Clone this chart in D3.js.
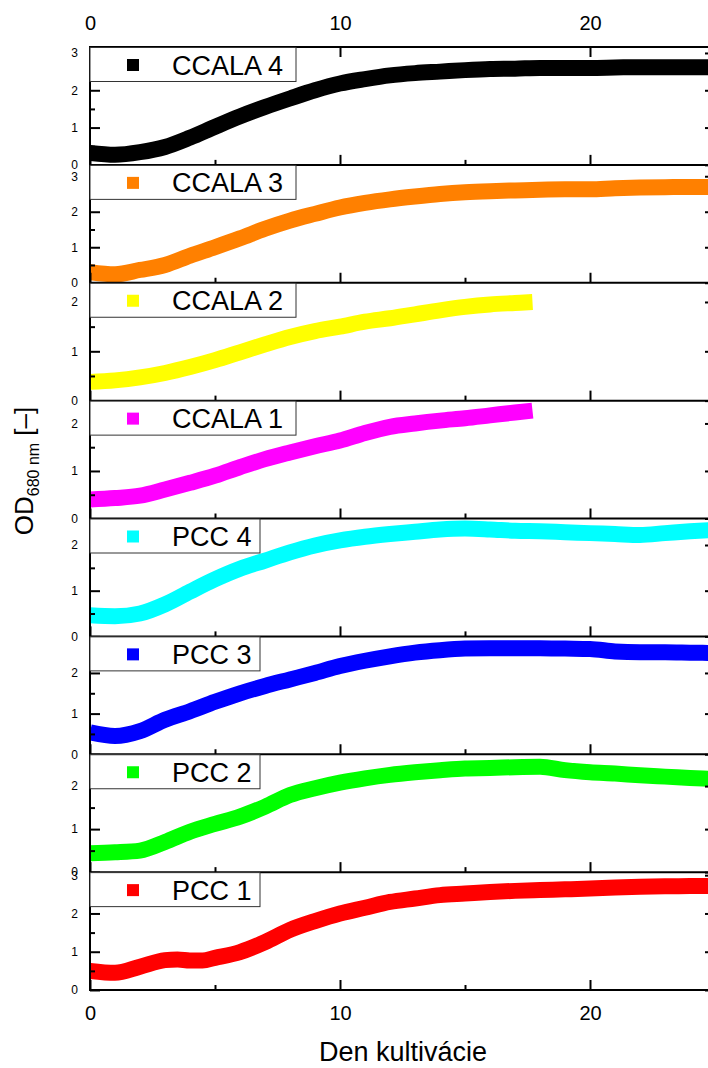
<!DOCTYPE html>
<html>
<head>
<meta charset="utf-8">
<script src="https://cdn.jsdelivr.net/npm/d3@7"></script>
<style>
  html, body { margin: 0; padding: 0; background: #fff; }
  svg { display: block; font-family: "Liberation Sans", Arial, sans-serif; }
</style>
</head>
<body>
<svg id="chart" width="708" height="1068"></svg>
<script>
// ---------- data (day, OD680) ----------
const seriesNames = ["CCALA 4", "CCALA 3", "CCALA 2", "CCALA 1", "PCC 4", "PCC 3", "PCC 2", "PCC 1"];
const seriesColors = ["#000000", "#ff8000", "#ffff00", "#ff00ff", "#00ffff", "#0000ff", "#00ff00", "#ff0000"];
const yMaxima = [3.16, 3.32, 2.39, 2.48, 2.58, 2.9, 2.74, 3.08];
const yTickValues = [[0,1,2,3],[0,1,2,3],[0,1,2],[0,1,2],[0,1,2],[0,1,2],[0,1,2],[0,1,2,3]];
const xMajorTicks = [0, 10, 20];
const xMinorTicks = [5, 15];

const ccala4 = [[0,0.32],[1,0.27],[2,0.34],[3,0.48],[4,0.73],[5,1.02],[6,1.3],[7,1.55],[8,1.78],[9,2.0],[10,2.18],[11,2.3],[12,2.4],[13,2.46],[14,2.5],[15,2.54],[16,2.57],[17,2.58],[18,2.6],[19,2.6],[20,2.6],[21,2.61],[22,2.62],[23,2.62],[24,2.62],[25,2.62]];
const ccala3 = [[0,0.3],[1,0.24],[2,0.36],[3,0.5],[4,0.76],[5,1.0],[6,1.25],[7,1.52],[8,1.75],[9,1.94],[10,2.12],[11,2.25],[12,2.35],[13,2.43],[14,2.5],[15,2.55],[16,2.58],[17,2.6],[18,2.62],[19,2.63],[20,2.63],[21,2.66],[22,2.68],[23,2.69],[24,2.7],[25,2.7]];
const ccala2 = [[0,0.38],[1,0.41],[2,0.47],[3,0.56],[4,0.68],[5,0.82],[6,0.98],[7,1.14],[8,1.29],[9,1.41],[10,1.5],[11,1.6],[12,1.67],[13,1.75],[14,1.83],[15,1.9],[16,1.95],[17,1.98],[17.7,2.0]];
const ccala1 = [[0,0.4],[1,0.43],[2,0.48],[3,0.61],[4,0.75],[5,0.9],[6,1.08],[7,1.25],[8,1.39],[9,1.52],[10,1.64],[11,1.8],[12,1.93],[13,2.0],[14,2.06],[15,2.11],[16,2.17],[17,2.23],[17.7,2.27]];
const pcc4 = [[0,0.46],[1,0.44],[2,0.5],[3,0.7],[4,0.98],[5,1.25],[6,1.48],[7,1.66],[8,1.84],[9,1.99],[10,2.1],[11,2.18],[12,2.24],[13,2.29],[14,2.34],[15,2.36],[16,2.34],[17,2.31],[18,2.3],[19,2.28],[20,2.26],[21,2.24],[22,2.22],[23,2.26],[24,2.3],[25,2.33]];
const pcc3 = [[0,0.54],[1,0.45],[2,0.57],[3,0.85],[4,1.06],[5,1.29],[6,1.5],[7,1.68],[8,1.84],[9,2.0],[10,2.17],[11,2.3],[12,2.41],[13,2.5],[14,2.56],[15,2.6],[16,2.61],[17,2.61],[18,2.61],[19,2.6],[20,2.59],[21,2.53],[22,2.51],[23,2.51],[24,2.5],[25,2.49]];
const pcc2 = [[0,0.44],[1,0.46],[2,0.5],[3,0.7],[4,0.94],[5,1.12],[6,1.29],[7,1.52],[8,1.79],[9,1.95],[10,2.08],[11,2.18],[12,2.26],[13,2.32],[14,2.37],[15,2.41],[16,2.42],[17,2.44],[18,2.45],[19,2.37],[20,2.32],[21,2.29],[22,2.25],[23,2.22],[24,2.19],[25,2.16]];
const pcc1 = [[0,0.5],[1,0.45],[2,0.61],[3,0.78],[3.5,0.8],[4,0.77],[4.5,0.77],[5,0.84],[6,0.99],[7,1.25],[8,1.57],[9,1.8],[10,2.0],[11,2.15],[12,2.3],[13,2.39],[14,2.48],[15,2.52],[16,2.56],[17,2.59],[18,2.61],[19,2.63],[20,2.65],[21,2.68],[22,2.7],[23,2.71],[24,2.72],[25,2.72]];
const seriesData = [ccala4, ccala3, ccala2, ccala1, pcc4, pcc3, pcc2, pcc1];

// ---------- layout ----------
const svg = d3.select("#chart");
const plotL = 90, plotR = 715, plotT = 47, plotB = 990;
const nPanels = seriesNames.length;
const panelH = (plotB - plotT) / nPanels;
const x = d3.scaleLinear().domain([0, 25]).range([plotL, plotR]);
const fontFam = '"Liberation Sans", Arial, sans-serif';

const defs = svg.append("defs");

seriesNames.forEach((name, i) => {
  const pTop = plotT + i * panelH;
  const pBot = pTop + panelH;
  const y = d3.scaleLinear().domain([0, yMaxima[i]]).range([pBot, pTop]);

  defs.append("clipPath").attr("id", "clip" + i)
    .append("rect").attr("x", plotL).attr("y", pTop).attr("width", plotR - plotL).attr("height", panelH);

  const g = svg.append("g");

  // data band
  const line = d3.line().x(d => x(d[0])).y(d => y(d[1])).curve(d3.curveMonotoneX);
  g.append("path")
    .datum(seriesData[i])
    .attr("clip-path", "url(#clip" + i + ")")
    .attr("d", line)
    .attr("fill", "none")
    .attr("stroke", seriesColors[i])
    .attr("stroke-width", 16)
    .attr("stroke-linejoin", "round")
    .attr("stroke-linecap", "butt");

  // left axis majors with labels
  const minorY = d3.range(0.5, yMaxima[i], 1);
  const la = g.append("g").attr("transform", `translate(${plotL},0)`)
    .call(d3.axisLeft(y).tickValues(yTickValues[i]).tickSize(-10).tickPadding(12).tickFormat(d3.format("d")));
  la.select(".domain").remove();
  la.selectAll("line").attr("stroke", "#000").attr("stroke-width", 2);
  la.selectAll("text").attr("font-family", fontFam).attr("font-size", 12).attr("fill", "#000");
  const lm = g.append("g").attr("transform", `translate(${plotL},0)`)
    .call(d3.axisLeft(y).tickValues(minorY).tickSize(-5).tickFormat(""));
  lm.select(".domain").remove();
  lm.selectAll("line").attr("stroke", "#000").attr("stroke-width", 2);

  // right axis majors
  const ra = g.append("g").attr("transform", `translate(${plotR},0)`)
    .call(d3.axisRight(y).tickValues(yTickValues[i]).tickSize(-10).tickFormat(""));
  ra.select(".domain").remove();
  ra.selectAll("line").attr("stroke", "#000").attr("stroke-width", 2);

  // bottom ticks of each panel
  const isLast = i === nPanels - 1;
  const ba = g.append("g").attr("transform", `translate(0,${pBot})`)
    .call(d3.axisBottom(x).tickValues(xMajorTicks).tickSize(-10).tickPadding(16)
      .tickFormat(isLast ? d3.format("d") : () => ""));
  ba.select(".domain").remove();
  ba.selectAll("line").attr("stroke", "#000").attr("stroke-width", 2);
  ba.selectAll("text").attr("font-family", fontFam).attr("font-size", 20).attr("fill", "#000");
  const bm = g.append("g").attr("transform", `translate(0,${pBot})`)
    .call(d3.axisBottom(x).tickValues(xMinorTicks).tickSize(-5).tickFormat(""));
  bm.select(".domain").remove();
  bm.selectAll("line").attr("stroke", "#000").attr("stroke-width", 2);

  // panel bottom spine
  g.append("line").attr("x1", plotL - 1).attr("x2", plotR).attr("y1", pBot).attr("y2", pBot)
    .attr("stroke", "#000").attr("stroke-width", 2);
});

// top axis
const ta = svg.append("g").attr("transform", `translate(0,${plotT})`)
  .call(d3.axisTop(x).tickValues(xMajorTicks).tickSize(-10).tickPadding(17).tickFormat(d3.format("d")));
ta.select(".domain").remove();
ta.selectAll("line").attr("stroke", "#000").attr("stroke-width", 2);
ta.selectAll("text").attr("font-family", fontFam).attr("font-size", 20).attr("fill", "#000");
svg.append("line").attr("x1", plotL - 1).attr("x2", plotR).attr("y1", plotT).attr("y2", plotT)
  .attr("stroke", "#000").attr("stroke-width", 2);

// left and right spines
svg.append("line").attr("x1", plotL).attr("x2", plotL).attr("y1", plotT).attr("y2", plotB)
  .attr("stroke", "#000").attr("stroke-width", 2);
svg.append("line").attr("x1", plotR).attr("x2", plotR).attr("y1", plotT).attr("y2", plotB)
  .attr("stroke", "#000").attr("stroke-width", 2);

// legends (drawn on top)
seriesNames.forEach((name, i) => {
  const pTop = plotT + i * panelH;
  const w = name.startsWith("CCALA") ? 206 : 170;
  const lg = svg.append("g");
  lg.append("rect").attr("x", plotL).attr("y", pTop + 0.5).attr("width", w).attr("height", 34)
    .attr("fill", "#fff").attr("stroke", "#333").attr("stroke-width", 1);
  lg.append("rect").attr("x", 127).attr("y", pTop + 12).attr("width", 12).attr("height", 12)
    .attr("fill", seriesColors[i]);
  lg.append("text").attr("x", 172).attr("y", pTop + 27.5)
    .attr("font-family", fontFam).attr("font-size", 27).attr("fill", "#000").text(name);
});

// axis titles
svg.append("text").attr("x", 403).attr("y", 1061).attr("text-anchor", "middle")
  .attr("font-family", fontFam).attr("font-size", 27).attr("fill", "#000").text("Den kultivácie");

const yt = svg.append("text")
  .attr("transform", "translate(33,471) rotate(-90)")
  .attr("text-anchor", "middle")
  .attr("font-family", fontFam).attr("font-size", 26).attr("fill", "#000");
yt.append("tspan").text("OD");
yt.append("tspan").attr("font-size", 16).attr("dy", 6).text("680 nm");
yt.append("tspan").attr("dy", -6).text(" [–]");
</script>
</body>
</html>
